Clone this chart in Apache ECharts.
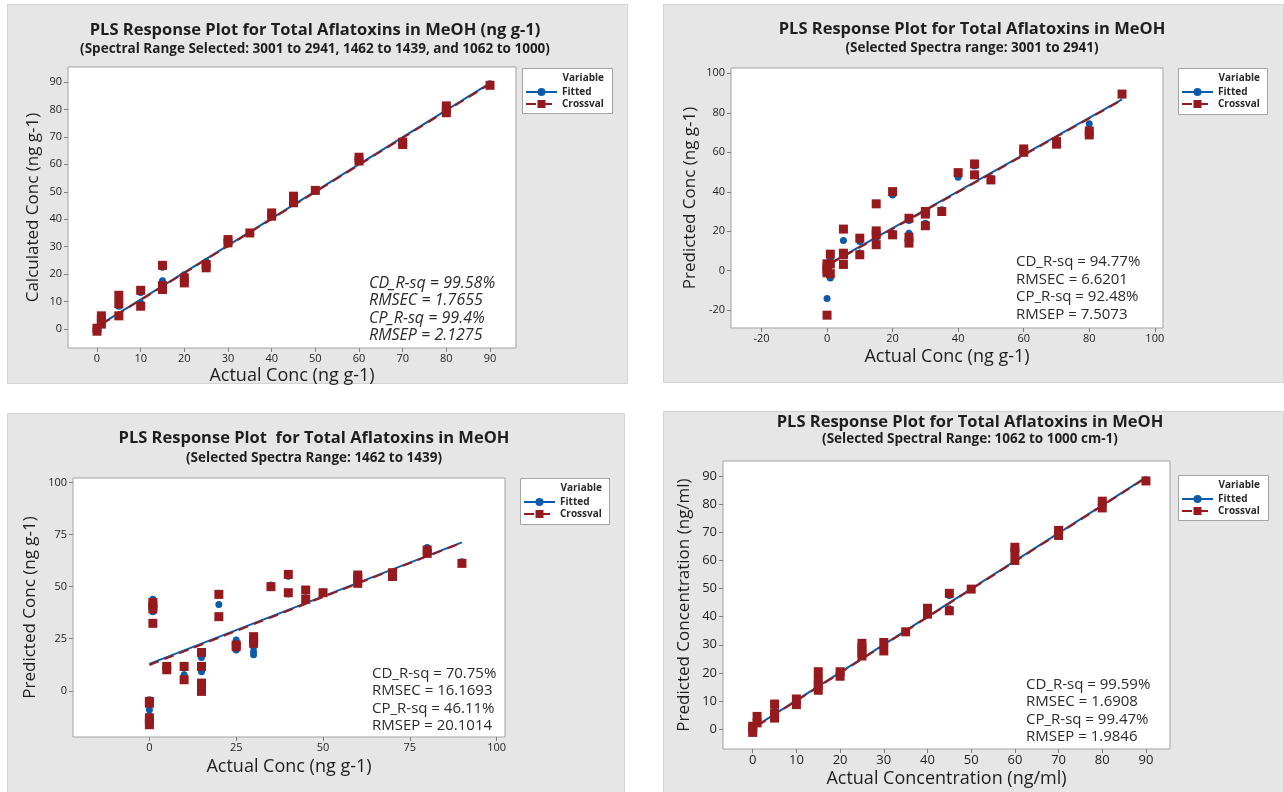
<!DOCTYPE html>
<html>
<head>
<meta charset="utf-8">
<title>PLS Response Plots</title>
<script src="https://cdn.jsdelivr.net/npm/echarts@6/dist/echarts.min.js"></script>
<style>
  html, body { margin: 0; padding: 0; background: #fff; }
  #chart { width: 1284px; height: 792px; }
</style>
</head>
<body>
<div id="chart"></div>
<script>
// ---- panel 1: all three ranges ----
const p1XTicks = [0, 10, 20, 30, 40, 50, 60, 70, 80, 90]
const p1YTicks = [0, 10, 20, 30, 40, 50, 60, 70, 80, 90]
const p1Fitted = [
  [0, -0.3], [0, 0.5], [1, 4.3], [1, 3.3], [1, 2], [5, 11.8], [5, 10.6], [5, 8.3], [5, 5.2],
  [10, 13.3], [10, 9.5], [15, 22.5], [15, 17.6], [15, 15.5], [20, 19.8], [20, 17.3],
  [25, 24.5], [25, 22.8], [30, 32], [30, 31], [35, 35.2], [40, 41.8], [40, 41.2],
  [45, 47.8], [45, 46.5], [50, 50.4], [60, 62.2], [60, 61.5], [70, 68.3], [70, 67.6],
  [80, 80.8], [80, 79.5], [90, 89.4],
]
const p1Crossval = [
  [0, -0.8], [0, 0.3], [1, 4.8], [1, 3.5], [1, 1.8], [5, 12.3], [5, 9.2], [5, 4.8],
  [10, 14.1], [10, 8.3], [15, 23.2], [15, 15.8], [15, 14.4], [20, 18.6], [20, 16.8],
  [25, 23.5], [25, 22.3], [30, 32.6], [30, 31.4], [35, 35], [40, 42.3], [40, 41.1],
  [45, 48.4], [45, 47.2], [45, 46], [50, 50.5], [60, 62.6], [60, 61.2], [70, 68.1], [70, 67.2],
  [80, 81.3], [80, 80], [80, 78.8], [90, 88.8],
]
const p1FitLine = [[1, 1.9], [90, 89.6]]
const p1CvLine = [[1, 1.7], [90, 89.3]]
const p1Stats = ['CD_R-sq = 99.58%', 'RMSEC = 1.7655', 'CP_R-sq = 99.4%', 'RMSEP = 2.1275']

// ---- panel 2: 3001 to 2941 ----
const p2XTicks = [-20, 0, 20, 40, 60, 80, 100]
const p2YTicks = [-20, 0, 20, 40, 60, 80, 100]
const p2Fitted = [
  [0, -14], [0, 0], [0, 1.5], [0, 3], [1, 6.1], [1, 3], [1, -3.7], [5, 15.3], [5, 8.5], [5, 3.8],
  [10, 14.8], [10, 9], [15, 19.5], [15, 16.5], [15, 14], [20, 38.4], [20, 19],
  [25, 25.5], [25, 19], [25, 15.5], [30, 29.5], [30, 24.1], [35, 30.9], [40, 47.4],
  [45, 53.1], [45, 48.5], [50, 46.8], [60, 61], [60, 60.3], [70, 65.8], [70, 64.8],
  [80, 74.5], [90, 89],
]
const p2Crossval = [
  [0, -22.5], [0, -1], [0, 0.5], [0, 2], [0, 3.5], [1, 8.4], [1, 3.4], [1, -1.5],
  [5, 21.1], [5, 8.9], [5, 8.1], [5, 3.2], [10, 16.5], [10, 8.1],
  [15, 33.9], [15, 20.2], [15, 18.2], [15, 13.2], [20, 40.1], [20, 18.2],
  [25, 26.6], [25, 17], [25, 14], [30, 30], [30, 28.7], [30, 22.8], [35, 30], [40, 49.7],
  [45, 54.1], [45, 48.6], [50, 46], [60, 61.7], [60, 60], [70, 65.4], [70, 64.1],
  [80, 70.8], [80, 68.8], [90, 89.5],
]
const p2FitLine = [[1, 3.8], [90, 86.8]]
const p2CvLine = [[1, 3.5], [90, 86.5]]
const p2Stats = ['CD_R-sq = 94.77%', 'RMSEC = 6.6201', 'CP_R-sq = 92.48%', 'RMSEP = 7.5073']

// ---- panel 3: 1462 to 1439 ----
const p3XTicks = [0, 25, 50, 75, 100]
const p3YTicks = [0, 25, 50, 75, 100]
const p3Fitted = [
  [0, -4.3], [0, -9.1], [0, -12], [1, 44], [1, 38], [5, 11.2], [10, 11], [10, 7.7],
  [15, 16], [15, 9.1], [15, 2.1], [20, 46.8], [20, 41.5], [25, 24.4], [25, 19.6],
  [30, 21], [30, 18.8], [30, 17.3], [35, 50.8], [40, 55], [40, 46.5], [45, 47.8], [45, 43.5],
  [50, 47.5], [60, 54.5], [60, 52], [70, 56], [70, 55], [80, 68.8], [90, 62],
]
const p3Crossval = [
  [0, -5.1], [0, -6], [0, -13], [0, -14.7], [0, -16.3], [1, 42.4], [1, 40.9], [1, 39.3], [1, 32.4],
  [5, 11.7], [5, 10.1], [10, 11.7], [10, 5.3], [15, 18.4], [15, 11.7], [15, 3.7], [15, -0.3],
  [20, 46.3], [20, 35.6], [25, 22], [25, 21.2], [30, 26], [30, 24.4], [30, 22.8], [35, 50],
  [40, 55.9], [40, 47.1], [45, 48.4], [45, 43.9], [50, 47.1], [60, 55.6], [60, 54], [60, 51.6],
  [70, 56.7], [70, 54.9], [80, 67.6], [80, 66], [90, 61.2],
]
const p3FitLine = [[0, 12.9], [90, 71.3]]
const p3CvLine = [[0, 12.4], [90, 71.1]]
const p3Stats = ['CD_R-sq = 70.75%', 'RMSEC = 16.1693', 'CP_R-sq = 46.11%', 'RMSEP = 20.1014']

// ---- panel 4: 1062 to 1000 cm-1 ----
const p4XTicks = [0, 10, 20, 30, 40, 50, 60, 70, 80, 90]
const p4YTicks = [0, 10, 20, 30, 40, 50, 60, 70, 80, 90]
const p4Fitted = [
  [0, 0.8], [0, -0.3], [1, 3.8], [1, 2.4], [5, 8.3], [5, 5.5], [10, 10.3], [10, 9],
  [15, 19.5], [15, 16.8], [15, 14.5], [20, 20], [20, 19.2], [25, 29.5], [25, 27],
  [30, 30.3], [30, 28.5], [35, 34.5], [40, 42.5], [40, 41.2], [45, 47.5], [45, 42.8],
  [50, 49.9], [60, 63.8], [60, 60.5], [70, 70.2], [70, 69.2], [80, 80.6], [80, 79.1], [90, 88.7],
]
const p4Crossval = [
  [0, 1], [0, 0], [0, -1.2], [1, 4.5], [1, 2.2], [5, 8.9], [5, 5.7], [5, 3.9], [10, 10.7], [10, 8.7],
  [15, 20.4], [15, 17.4], [15, 15.6], [15, 13.8], [20, 20.4], [20, 18.8],
  [25, 30.5], [25, 29], [25, 27.2], [25, 26], [30, 30.8], [30, 27.8], [35, 34.6],
  [40, 43], [40, 40.9], [45, 48.3], [45, 42.1], [50, 49.8], [60, 64.7], [60, 63], [60, 60],
  [70, 70.7], [70, 68.9], [80, 81.1], [80, 78.7], [90, 88.3],
]
const p4FitLine = [[1, 1.3], [90, 89.6]]
const p4CvLine = [[1, 1.1], [90, 89.4]]
const p4Stats = ['CD_R-sq = 99.59%', 'RMSEC = 1.6908', 'CP_R-sq = 99.47%', 'RMSEP = 1.9846']

const FONT = "'Open Sans', 'Noto Sans', sans-serif"
const BLUE = '#0C5BAA'
const RED = '#961A1D'
const TEXT = '#1e1e1e'

// layout of each Minitab-style panel (pixels)
const panels = [
  {
    title: 'PLS Response Plot for Total Aflatoxins in MeOH (ng g-1)',
    subtitle: '(Spectral Range Selected: 3001 to 2941, 1462 to 1439, and 1062 to 1000)',
    xName: 'Actual Conc (ng g-1)', yName: 'Calculated Conc (ng g-1)',
    xTicks: p1XTicks, yTicks: p1YTicks, fitted: p1Fitted, crossval: p1Crossval,
    fitLine: p1FitLine, cvLine: p1CvLine, stats: p1Stats, italic: true, statsSize: 16,
    xRange: [-6.64, 95.95], yRange: [-6.92, 95.47],
    box: [7, 4, 620, 379], grid: [68, 67, 448, 281], legendBox: [522, 68, 90, 45],
    titleX: 315, titleY: [30, 49], statsXY: [369, 274.5],
    xGap: 19, yGap: 26, labelSize: 11,
  },
  {
    title: 'PLS Response Plot for Total Aflatoxins in MeOH',
    subtitle: '(Selected Spectra range: 3001 to 2941)',
    xName: 'Actual Conc (ng g-1)', yName: 'Predicted Conc (ng g-1)',
    xTicks: p2XTicks, yTicks: p2YTicks, fitted: p2Fitted, crossval: p2Crossval,
    fitLine: p2FitLine, cvLine: p2CvLine, stats: p2Stats, italic: false, statsSize: 15,
    xRange: [-29.3, 102.5], yRange: [-29, 102.7],
    box: [663, 4, 620, 378], grid: [731, 68, 432, 260], legendBox: [1178, 68, 89, 46],
    titleX: 972, titleY: [29, 48], statsXY: [1016, 253],
    xGap: 20, yGap: 32, labelSize: 11,
  },
  {
    title: 'PLS Response Plot  for Total Aflatoxins in MeOH',
    subtitle: '(Selected Spectra Range: 1462 to 1439)',
    xName: 'Actual Conc (ng g-1)', yName: 'Predicted Conc (ng g-1)',
    xTicks: p3XTicks, yTicks: p3YTicks, fitted: p3Fitted, crossval: p3Crossval,
    fitLine: p3FitLine, cvLine: p3CvLine, stats: p3Stats, italic: false, statsSize: 15,
    xRange: [-22, 102.4], yRange: [-22.2, 102.2],
    box: [7, 413, 617, 380], grid: [73, 478, 432, 259], legendBox: [520, 478, 89, 46],
    titleX: 314, titleY: [438, 458], statsXY: [372, 664.5],
    xGap: 21, yGap: 34, labelSize: 11,
  },
  {
    title: 'PLS Response Plot for Total Aflatoxins in MeOH',
    subtitle: '(Selected Spectral Range: 1062 to 1000 cm-1)',
    xName: 'Actual Concentration (ng/ml)', yName: 'Predicted Concentration (ng/ml)',
    xTicks: p4XTicks, yTicks: p4YTicks, fitted: p4Fitted, crossval: p4Crossval,
    fitLine: p4FitLine, cvLine: p4CvLine, stats: p4Stats, italic: false, statsSize: 15,
    xRange: [-6.8, 95.5], yRange: [-7.1, 95.4],
    box: [663, 411, 620, 382], grid: [723, 461, 447, 288], legendBox: [1178, 475, 90, 45],
    titleX: 970, titleY: [422, 439], statsXY: [1026, 675.5],
    xGap: 21, yGap: 30, labelSize: 13,
  },
]

function axisCommon(ticks, range, size, nameSize) {
  return {
    type: 'value',
    min: range[0],
    max: range[1],
    axisLine: { show: false, onZero: false },
    axisTick: { show: true, length: 4, customValues: ticks, lineStyle: { color: '#7d7d7d' } },
    axisLabel: { customValues: ticks, fontSize: size, color: TEXT, fontFamily: FONT },
    splitLine: { show: false },
    nameLocation: 'middle',
    nameTextStyle: { fontSize: nameSize, color: TEXT, fontFamily: FONT },
  }
}

function buildOption() {
  const option = {
    backgroundColor: '#fff',
    animation: false,
    grid: [], xAxis: [], yAxis: [], series: [], legend: [], graphic: [],
  }
  panels.forEach((p, i) => {
    const [gx, gy, gw, gh] = p.grid
    const [bx, by, bw, bh] = p.box
    const [lx, ly, lw, lh] = p.legendBox

    option.grid.push({
      left: gx, top: gy, width: gw, height: gh,
      show: true, backgroundColor: '#fff', borderColor: '#a3a3a3', borderWidth: 1,
      outerBoundsMode: 'none',
    })
    const xBase = axisCommon(p.xTicks, p.xRange, p.labelSize, 18)
    const yBase = axisCommon(p.yTicks, p.yRange, p.labelSize, 17)
    option.xAxis.push({
      ...xBase, gridIndex: i, name: p.xName, nameGap: p.xGap,
      axisLabel: { ...xBase.axisLabel, margin: 5 },
    })
    option.yAxis.push({
      ...yBase, gridIndex: i, name: p.yName, nameGap: p.yGap,
      axisLabel: { ...yBase.axisLabel, margin: 6 },
    })

    // lines first so the legend shows line + marker icons
    option.series.push(
      {
        name: 'Fitted', type: 'line', xAxisIndex: i, yAxisIndex: i, data: p.fitLine,
        symbol: 'circle', symbolSize: 7, showSymbol: false, silent: true, z: 3,
        lineStyle: { color: BLUE, width: 2 }, itemStyle: { color: BLUE },
      },
      {
        name: 'Crossval', type: 'line', xAxisIndex: i, yAxisIndex: i, data: p.cvLine,
        symbol: 'rect', symbolSize: 9, showSymbol: false, silent: true, z: 5,
        lineStyle: { color: RED, width: 2, type: [10, 6] }, itemStyle: { color: RED },
      },
      {
        name: 'Fitted', type: 'scatter', xAxisIndex: i, yAxisIndex: i, data: p.fitted,
        symbol: 'circle', symbolSize: 7, itemStyle: { color: BLUE, opacity: 1 }, z: 2,
      },
      {
        name: 'Crossval', type: 'scatter', xAxisIndex: i, yAxisIndex: i, data: p.crossval,
        symbol: 'rect', symbolSize: 9, itemStyle: { color: RED, opacity: 1 }, z: 4,
      },
    )

    option.legend.push({
      left: lx + 3, top: ly + 18, orient: 'vertical', padding: 0, z: 6,
      itemWidth: 31, itemHeight: 10, itemGap: 0, selectedMode: false,
      data: ['Fitted', 'Crossval'],
      textStyle: { fontSize: 10, fontWeight: 'bold', color: '#2a2a2a', lineHeight: 12, fontFamily: FONT },
    })

    option.graphic.push(
      {
        type: 'rect', z: -10, silent: true,
        shape: { x: bx + 0.5, y: by + 0.5, width: bw, height: bh },
        style: { fill: '#e6e6e6', stroke: '#d3d3d3', lineWidth: 1 },
      },
      {
        type: 'rect', z: 1, silent: true,
        shape: { x: lx + 0.5, y: ly + 0.5, width: lw, height: lh },
        style: { fill: '#fff', stroke: '#a3a3a3', lineWidth: 1 },
      },
      {
        type: 'text', z: 11, silent: true,
        style: {
          text: 'Variable', x: lx + 82, y: ly + 10, textAlign: 'right', textVerticalAlign: 'middle',
          font: `bold 10px ${FONT}`, fill: '#2a2a2a',
        },
      },
      {
        type: 'text', z: 11, silent: true,
        style: {
          text: p.title, x: p.titleX, y: p.titleY[0], textAlign: 'center', textVerticalAlign: 'middle',
          font: `bold 16.5px ${FONT}`, fill: TEXT,
        },
      },
      {
        type: 'text', z: 11, silent: true,
        style: {
          text: p.subtitle, x: p.titleX, y: p.titleY[1], textAlign: 'center', textVerticalAlign: 'middle',
          font: `bold 13.5px ${FONT}`, fill: TEXT,
        },
      },
      {
        type: 'text', z: 11, silent: true,
        style: {
          text: p.stats.join('\n'), x: p.statsXY[0], y: p.statsXY[1],
          textAlign: 'left', textVerticalAlign: 'top', lineHeight: 17.5,
          font: `${p.italic ? 'italic ' : ''}${p.statsSize}px ${FONT}`, fill: '#2b2b2b',
        },
      },
    )
  })
  return option
}

const chart = echarts.init(document.getElementById('chart'), null, { renderer: 'canvas' })
chart.setOption(buildOption())
</script>
</body>
</html>
